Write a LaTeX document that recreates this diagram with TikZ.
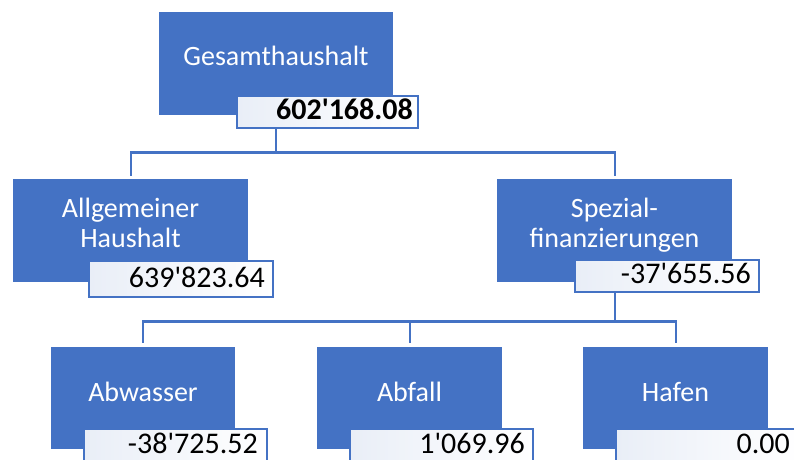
\documentclass[tikz,border=0pt]{standalone}
\usepackage{fontspec}
\setmainfont{Carlito}
\definecolor{obl}{HTML}{4472C4}
\definecolor{vfill}{HTML}{E9EEF7}
\newcommand{\ap}{\textquotesingle}
\begin{document}
\begin{tikzpicture}[x=1pt,y=-1pt,
  box/.style={fill=obl, draw=none, inner sep=0pt, anchor=north west},
  valbox/.style={draw=obl, line width=2pt, left color=vfill, right color=white, inner sep=0pt, anchor=north west},
  lab/.style={text=white, font=\fontsize{28}{30}\selectfont, anchor=base, inner sep=0pt},
  val/.style={text=black, font=\fontsize{30}{32}\selectfont, anchor=base east, inner sep=0pt},
  conn/.style={draw=obl, line width=2.2pt}]
\useasboundingbox (0,0) rectangle (794,459);
\clip (0,0) rectangle (794,459);
% boxes
\node[box, minimum width=234pt, minimum height=103pt] (g) at (159,12) {};
\node[box, minimum width=235pt, minimum height=103pt] (a) at (13,179) {};
\node[box, minimum width=235pt, minimum height=103pt] (s) at (497,179) {};
\node[box, minimum width=184pt, minimum height=102pt] (w) at (51,347) {};
\node[box, minimum width=185pt, minimum height=102pt] (f) at (317,347) {};
\node[box, minimum width=185pt, minimum height=102pt] (h) at (583,347) {};
% connectors
\draw[conn] (g.south) -- ++(0,37) coordinate (j1);
\draw[conn, shorten >=3pt] (j1) -| (a.north);
\draw[conn, shorten >=3pt] (j1) -| (s.north);
\draw[conn] (s.south) -- ++(0,39) coordinate (j2);
\draw[conn, shorten >=4pt] (j2) -| (w.north);
\draw[conn, shorten >=4pt] (j2) -| (f.north);
\draw[conn, shorten >=4pt] (j2) -| (h.north);
% value boxes
\node[valbox, minimum width=181pt, minimum height=32pt] (vg) at (236,95) {};
\node[valbox, minimum width=184pt, minimum height=36pt] (va) at (88,260) {};
\node[valbox, minimum width=184pt, minimum height=32pt] (vs) at (574,259) {};
\node[valbox, minimum width=183pt, minimum height=40pt] (vw) at (83,428) {};
\node[valbox, minimum width=183pt, minimum height=40pt] (vf) at (349,428) {};
\node[valbox, minimum width=183pt, minimum height=40pt] (vh) at (615,428) {};
% labels
\node[lab] (tg) at (276,65) {Gesamthaushalt};
\node[lab] (ta) at (130.5,217) {\begin{tabular}[t]{@{}c@{}}Allgemeiner\\Haushalt\end{tabular}};
\node[lab] (ts) at (614.5,217) {\begin{tabular}[t]{@{}c@{}}Spezial-\\finanzierungen\end{tabular}};
\node[lab] (tw) at (143,401) {Abwasser};
\node[lab] (tf) at (409.5,401) {Abfall};
\node[lab] (th) at (675.5,401) {Hafen};
% values
\node[val] (ng) at (413,119) {\bfseries 602\ap168.08};
\node[val] (na) at (265,287) {639\ap823.64};
\node[val] (ns) at (751,283) {-37\ap655.56};
\node[val] (nw) at (258,453) {-38\ap725.52};
\node[val] (nf) at (525,453) {1\ap069.96};
\node[val] (nh) at (790,453) {0.00};
\end{tikzpicture}
\end{document}
